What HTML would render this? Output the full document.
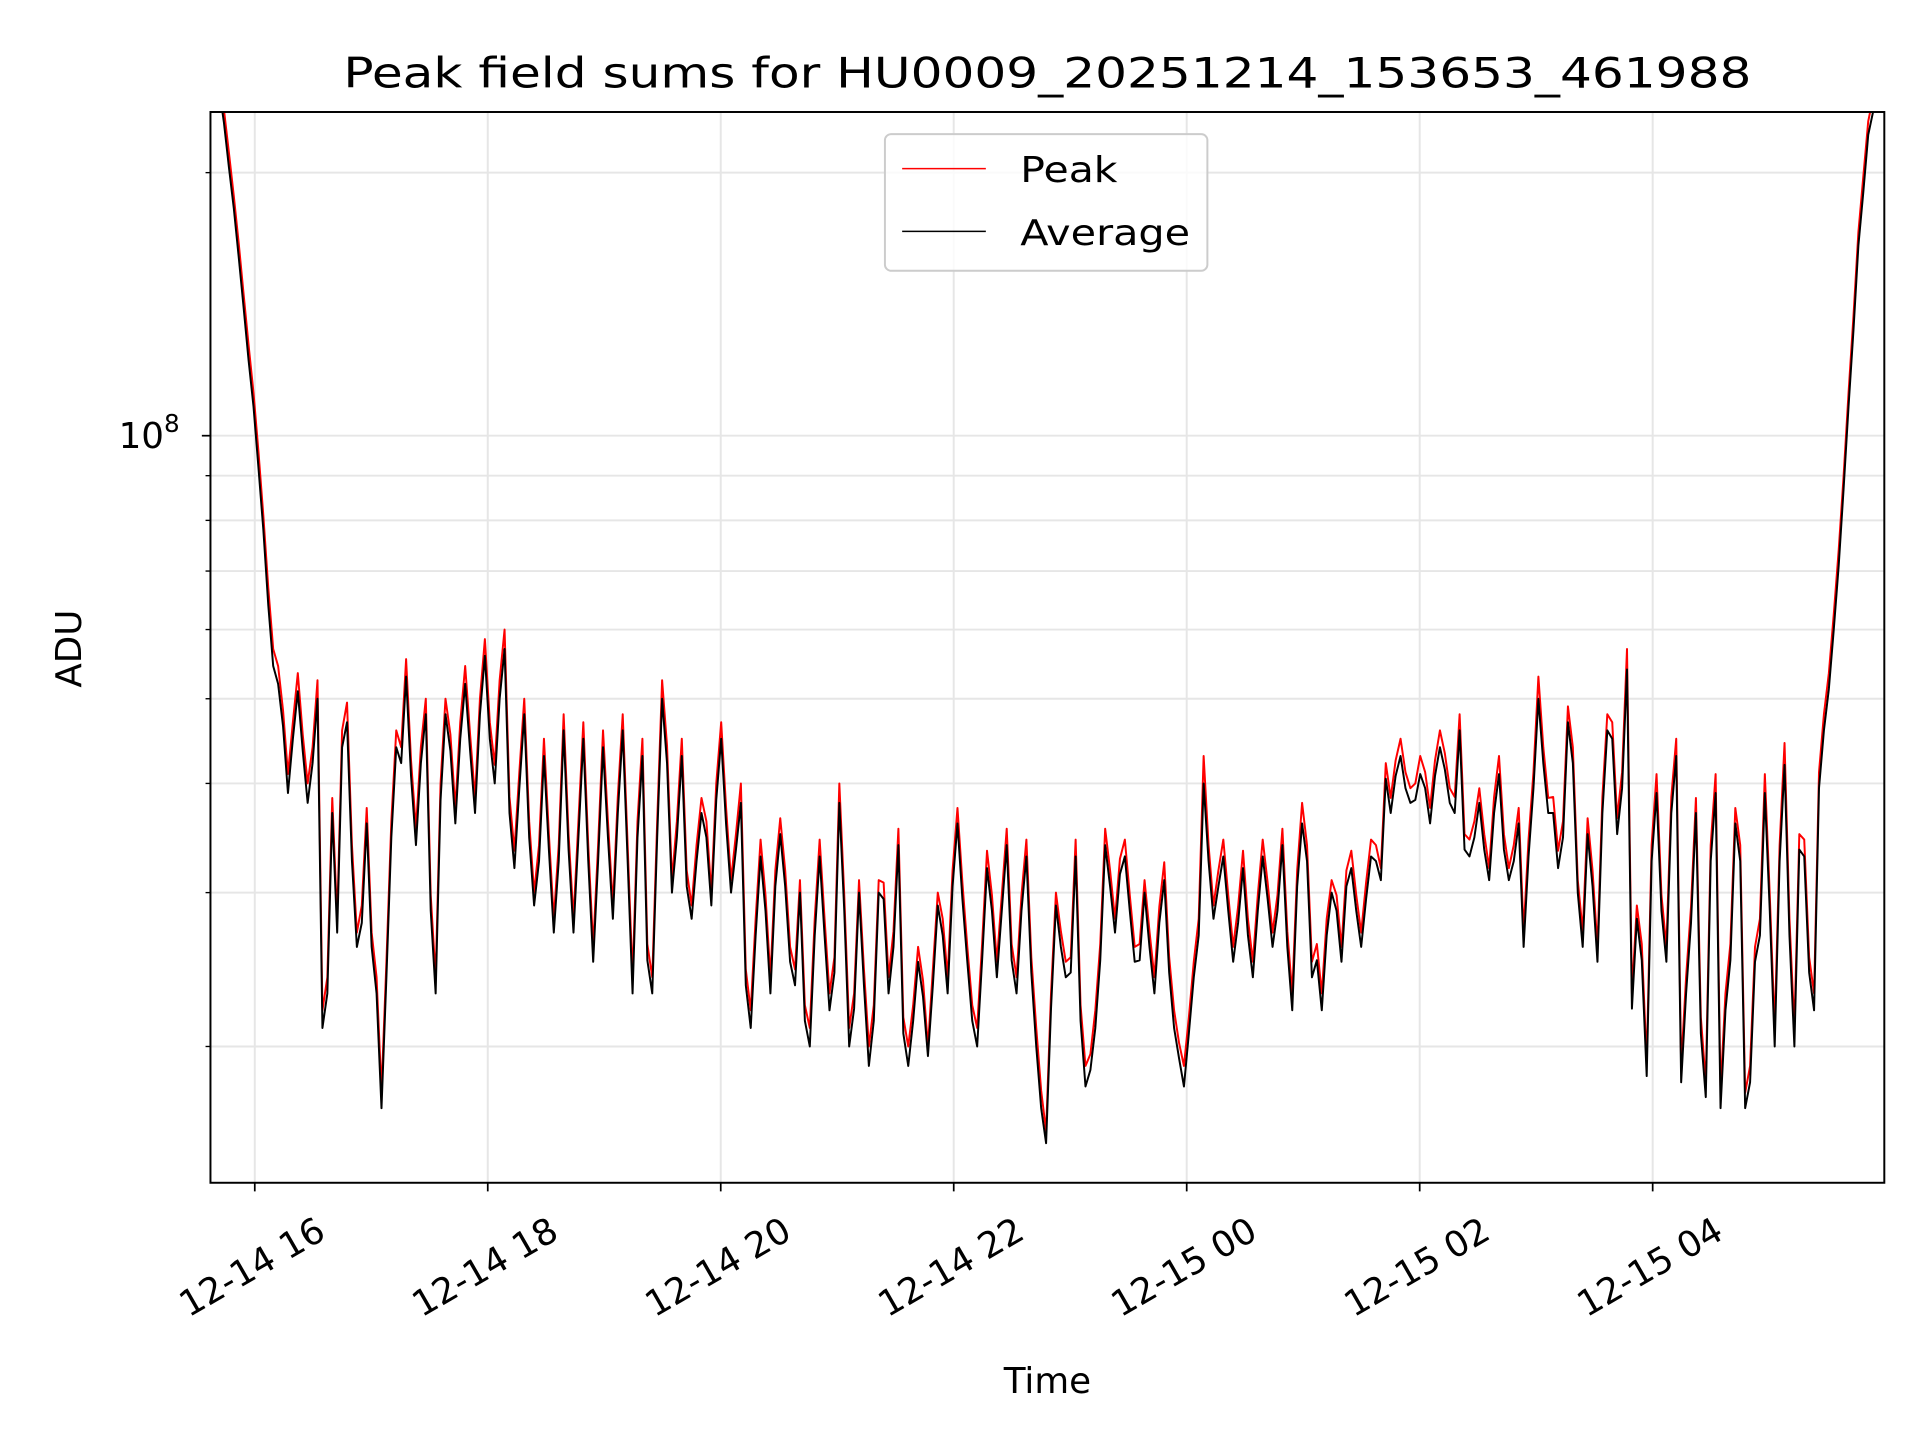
<!DOCTYPE html>
<html><head><meta charset="utf-8"><style>html,body{margin:0;padding:0;background:#fff}svg{display:block}</style></head>
<body>
<svg id="chart" width="1920" height="1440" viewBox="0 0 1560 1170" xmlns="http://www.w3.org/2000/svg" font-family="'DejaVu Sans','Liberation Sans',sans-serif">
<defs><clipPath id="plotclip"><rect x="171" y="91" width="1360" height="870"/></clipPath></defs>
<rect x="0" y="0" width="1560" height="1170" fill="#fff"/>
<text x="851" y="71" font-size="34" text-anchor="middle" textLength="1144" lengthAdjust="spacingAndGlyphs">Peak field sums for HU0009_20251214_153653_461988</text>
<g id="grid"></g>
<g id="series" clip-path="url(#plotclip)"></g>
<rect x="171" y="91" width="1360" height="870" fill="none" stroke="#000" stroke-width="1.6"/>
<g id="ticks"></g>
<text transform="translate(66,527) rotate(-90)" font-size="29" text-anchor="middle">ADU</text>
<text x="851" y="1132" font-size="29" text-anchor="middle">Time</text>
<g>
<rect x="719" y="109" width="262" height="111" rx="5" fill="#fff" fill-opacity="0.8" stroke="#ccc" stroke-width="1.6"/>
<line x1="733" y1="137" x2="801" y2="137" stroke="#f00" stroke-width="1.2"/>
<text x="829" y="148" font-size="29" textLength="79" lengthAdjust="spacingAndGlyphs">Peak</text>
<line x1="733" y1="188" x2="801" y2="188" stroke="#000" stroke-width="1.2"/>
<text x="829" y="199" font-size="29" textLength="138" lengthAdjust="spacingAndGlyphs">Average</text>
</g>
</svg>
<script>
const startHour = 15.651;
const stepHours = 0.08452;
const avgE7 = [28,22.8,18.2,14.0,10.8,7.8,5.45,4.65,4.5,4.36,4.22,2.1,3.7,4.4,3.26,2.77,2.6,1.7,3.47,4.22,4.08,4.22,2.86,3.83,4.36,4.5,4.36,4.8,4.5,5.0,3.7,3.95,3.47,3.26,3.36,3.26,3.36,3.47,3.26,3.26,3.47,3.7,3.26,3.47,2.51,3.47,4.22,3.47,3.05,3.26,3.47,3.83,3.59,3.36,2.35,2.68,2.86,3.05,3.05,2.35,2.14,2.68,2.68,2.43,2.86,2.21,2.35,2.14,2.95,2.6,2.07,2.14,2.28,2.35,2.68,3.05,2.95,2.14,2.51,2.86,2.86,2.51,2.86,2.43,1.7,2.21,2.6,2.43,2.14,1.88,2.51,3.05,3.15,2.86,2.51,2.6,2.77,2.43,1.94,2.07,2.68,3.26,3.05,2.86,2.77,2.68,2.86,2.95,2.86,2.6,3.05,3.26,2.51,2.68,2.86,3.05,2.86,2.95,3.26,4.05,4.08,3.95,3.83,3.95,4.08,4.15,3.7,3.36,3.47,3.36,3.7,3.36,3.26,2.6,3.95,4.22,3.7,3.47,4.22,2.6,3.05,3.7,4.5,3.95,2.21,2.51,3.26,2.86,3.7,1.82,2.77,2.07,3.26,1.7,2.51,3.26,1.82,2.68,2.86,3.26,2.68,3.36,2.43,3.95,5.13,7.1,10.8,16.5,22.1,25.1,27.7];
const avgMidE7 = [25,20.3,16,12.2,9.2,6.4,5.2,3.9,5.1,3.8,5.0,2.3,2.7,4.7,2.6,3.6,2.3,2.4,4.4,5.3,3.4,4.8,2.3,4.8,3.6,5.2,3.7,5.6,4.0,5.7,3.2,4.8,2.9,4.3,2.7,4.6,2.7,4.5,2.5,4.4,2.8,4.6,2.3,4.3,2.3,5.0,3.0,4.3,2.8,3.7,2.9,4.5,3.0,3.8,2.1,3.3,2.3,3.5,2.5,3.0,2.0,3.3,2.2,3.8,2.0,3.0,1.9,3.0,2.3,3.4,1.9,2.5,1.95,2.9,2.3,3.6,2.5,2.0,3.2,2.4,3.4,2.3,3.3,2.0,1.55,2.9,2.4,3.3,1.8,2.1,3.4,2.7,3.3,2.5,3.0,2.3,3.1,2.1,1.8,2.4,4.0,2.8,3.3,2.5,3.2,2.4,3.3,2.6,3.4,2.2,3.6,2.4,2.2,3.0,2.5,3.2,2.6,3.3,3.1,3.7,4.3,3.8,4.1,3.6,4.4,3.8,4.6,3.3,3.8,3.1,4.1,3.1,3.6,3.3,5.0,3.7,3.2,4.7,3.0,3.5,2.5,4.6,3.5,5.4,2.8,1.85,3.9,2.5,4.3,2.3,3.7,1.75,3.9,2.2,3.6,1.7,2.5,3.9,2.0,4.2,2.0,3.3,2.2,4.6,6.0,8.7,13.2,19,23.5,26.4];
const peakE7 = [29,23.6,18.8,14.5,11.2,8.1,5.7,4.85,4.7,4.55,4.4,2.2,3.85,4.6,3.4,2.9,2.7,1.78,3.62,4.4,4.25,4.4,2.98,4.0,4.55,4.7,4.55,5.0,4.7,5.25,3.86,4.12,3.62,3.4,3.5,3.4,3.5,3.62,3.4,3.4,3.62,3.86,3.4,3.62,2.62,3.62,4.42,3.62,3.18,3.4,3.62,4.0,3.75,3.5,2.45,2.8,2.98,3.18,3.18,2.45,2.23,2.8,2.8,2.53,2.98,2.3,2.45,2.23,3.08,2.71,2.16,2.23,2.38,2.45,2.8,3.18,3.08,2.23,2.62,2.98,2.98,2.62,2.98,2.53,1.78,2.3,2.71,2.53,2.23,1.96,2.62,3.18,3.28,2.98,2.62,2.71,2.89,2.53,2.02,2.16,2.8,3.4,3.18,2.98,2.89,2.8,2.98,3.08,2.98,2.71,3.18,3.4,2.62,2.8,2.98,3.18,2.98,3.08,3.4,4.22,4.25,4.12,4.0,4.12,4.25,4.33,3.86,3.5,3.62,3.5,3.86,3.5,3.4,2.71,4.12,4.4,3.86,3.62,4.4,2.71,3.18,3.86,4.7,4.12,2.3,2.62,3.4,2.98,3.86,1.9,2.89,2.16,3.4,1.78,2.62,3.4,1.9,2.8,2.98,3.4,2.8,3.5,2.53,4.12,5.35,7.4,11.2,17.1,22.9,26,28.7];
const peakMidE7 = [26,21.1,16.6,12.7,9.6,6.7,5.45,4.1,5.35,4.0,5.25,2.4,2.8,4.95,2.7,3.75,2.4,2.5,4.6,5.55,3.55,5.0,2.4,5.0,3.75,5.45,3.85,5.85,4.2,6.0,3.35,5.0,3.0,4.5,2.8,4.8,2.8,4.7,2.6,4.6,2.9,4.8,2.4,4.5,2.4,5.25,3.1,4.5,2.9,3.85,3.0,4.7,3.1,4.0,2.2,3.45,2.4,3.65,2.6,3.1,2.1,3.45,2.3,4.0,2.1,3.1,2.0,3.1,2.4,3.55,2.0,2.6,2.0,3.0,2.4,3.75,2.6,2.1,3.35,2.5,3.55,2.4,3.45,2.1,1.6,3.0,2.5,3.45,1.9,2.2,3.55,2.8,3.45,2.6,3.1,2.4,3.25,2.2,1.9,2.5,4.3,2.9,3.45,2.6,3.35,2.5,3.45,2.7,3.55,2.3,3.8,2.5,2.3,3.1,2.6,3.35,2.7,3.45,3.2,3.85,4.5,3.95,4.3,3.75,4.6,3.95,4.8,3.45,3.95,3.2,4.3,3.2,3.75,3.45,5.3,3.85,3.35,4.9,3.1,3.65,2.6,4.8,3.65,5.7,2.9,1.92,4.1,2.6,4.5,2.4,3.85,1.82,4.1,2.3,3.75,1.77,2.6,4.1,2.1,4.45,2.1,3.45,2.3,4.8,6.25,9.0,13.7,19.8,24.4,27.4];
const xTickHours = [16,18,20,22,24,26,28];
const xTickLabels = ["12-14 16","12-14 18","12-14 20","12-14 22","12-15 00","12-15 02","12-15 04"];
const yMinorValues = [2e7,3e7,4e7,5e7,6e7,7e7,8e7,9e7,2e8];
const yMajorValues = [1e8];

const NS = "http://www.w3.org/2000/svg";
function xScale(h){ return 207 + (h - 16) * 94.65; }
function yScale(v){ return 354 - (Math.log10(v) - 8) * 710; }
function mk(tag, attrs, parent){ const e = document.createElementNS(NS, tag); for (const k in attrs) e.setAttribute(k, attrs[k]); parent.appendChild(e); return e; }

const grid = document.getElementById('grid');
const ticks = document.getElementById('ticks');
const series = document.getElementById('series');

xTickHours.forEach((h, i) => {
  const x = xScale(h);
  const g = mk('line', {x1:x, y1:91, x2:x, y2:961, stroke:'#e6e6e6', 'stroke-width':1.6}, grid);
  
  
  const t = mk('line', {x1:x, y1:961, x2:x, y2:968, stroke:'#000', 'stroke-width':1.4}, ticks);
  
  
  const lbl = mk('text', {x:0, y:0, 'font-size':29, 'text-anchor':'middle', 'dominant-baseline':'central', transform:`translate(${x - 2},1030) rotate(-30)`}, ticks);
  lbl.textContent = xTickLabels[i];
  
  
});
yMinorValues.forEach(v => {
  const y = yScale(v);
  const g = mk('line', {x1:171, y1:y, x2:1531, y2:y, stroke:'#e6e6e6', 'stroke-width':1.6}, grid);
  
  
  const t = mk('line', {x1:167, y1:y, x2:171, y2:y, stroke:'#000', 'stroke-width':1.1}, ticks);
  
  
});
yMajorValues.forEach(v => {
  const y = yScale(v);
  const g = mk('line', {x1:171, y1:y, x2:1531, y2:y, stroke:'#e6e6e6', 'stroke-width':1.6}, grid);
  
  
  const t = mk('line', {x1:164, y1:y, x2:171, y2:y, stroke:'#000', 'stroke-width':1.4}, ticks);
  
  
  const lbl = mk('text', {x:146, y:y+10, 'font-size':29, 'text-anchor':'end'}, ticks);
  lbl.innerHTML = '10<tspan font-size="20" dy="-13">' + Math.round(Math.log10(v)) + '</tspan>';
  
  
});

function pathFor(main, mid){
  const pts = [];
  main.forEach((v, i) => {
    pts.push([startHour + i * stepHours, v]);
    if (i < main.length - 1 && mid[i] !== undefined) pts.push([startHour + (i + 0.5) * stepHours, mid[i]]);
  });
  return pts.map((p, i) => (i ? 'L' : 'M') + xScale(p[0]).toFixed(2) + ' ' + yScale(p[1] * 1e7).toFixed(2)).join(' ');
}
const peak = mk('path', {d: pathFor(peakE7, peakMidE7), fill:'none', stroke:'#f00', 'stroke-width':1.6, 'stroke-linejoin':'round'}, series);


const avg = mk('path', {d: pathFor(avgE7, avgMidE7), fill:'none', stroke:'#000', 'stroke-width':1.6, 'stroke-linejoin':'round'}, series);


</script>
</body></html>
